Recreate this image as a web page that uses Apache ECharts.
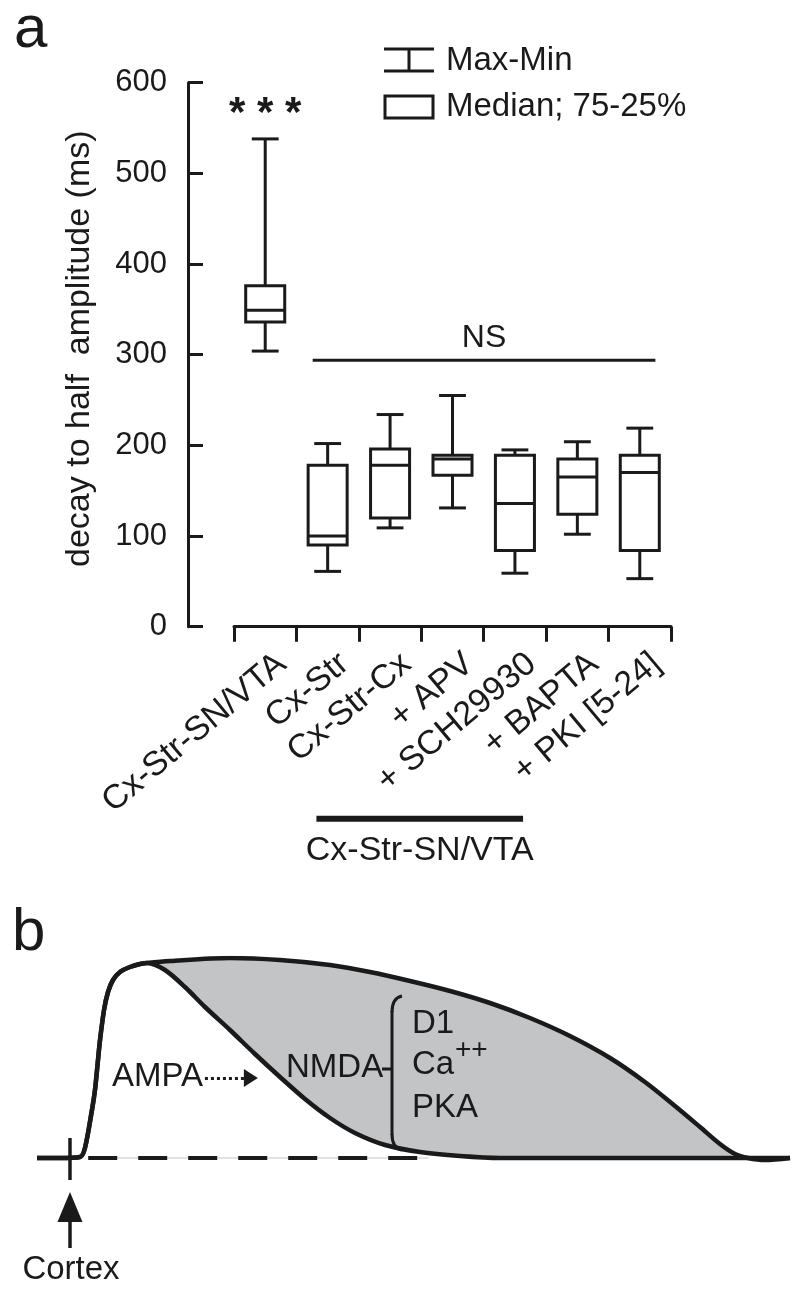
<!DOCTYPE html>
<html><head><meta charset="utf-8">
<script src="https://cdn.jsdelivr.net/npm/echarts@6/dist/echarts.min.js"></script>
<style>html,body{margin:0;padding:0;background:#fff}#c{width:800px;height:1295px}</style>
</head><body><div id="c"></div><script>
// ---------- Panel a data ----------
const categories = ['Cx-Str-SN/VTA', 'Cx-Str', 'Cx-Str-Cx', '+ APV', '+ SCH29930', '+ BAPTA', '+ PKI [5-24]'];
const minVals    = [304,  61, 109, 131,  59, 102,  53];
const q1Vals     = [336,  90, 120, 167,  84, 124,  84];
const medianVals = [349, 100, 178, 185, 136, 165, 170];
const q3Vals     = [376, 178, 196, 189, 189, 185, 189];
const maxVals    = [538, 202, 234, 255, 195, 204, 219];
const significance = ['* * *', '', '', '', '', '', ''];
const nsFrom = 1, nsTo = 6, nsLevel = 294, nsLabel = 'NS';
const groupFrom = 1, groupTo = 4, groupLabel = 'Cx-Str-SN/VTA';
const yTickMin = 0, yTickMax = 600, yTickStep = 100;
const yAxisName = 'decay to half  amplitude (ms)';
const legendLabels = ['Max-Min', 'Median; 75-25%'];

// ---------- Panel b schematic traces (time a.u., normalized amplitude) ----------
const risePhase = [[0,0],[3.05,0],[5.71,0.005],[6.37,0.05],[7.30,0.24],[7.70,0.34],[8.10,0.49],[8.37,0.59],[8.90,0.74],[9.43,0.83],[10.09,0.89],[11.02,0.93],[12.35,0.955],[13.68,0.97],[14.61,0.975]];
const nmdaTail = [[17.66,0.985],[25.63,1.0],[32.27,0.99],[38.91,0.965],[44.22,0.93],[49.54,0.885],[54.85,0.835],[60.16,0.775],[65.47,0.70],[70.78,0.61],[76.10,0.50],[80.74,0.38],[84.73,0.26],[88.05,0.155],[90.70,0.07],[92.70,0.02],[94.42,0],[96.68,-0.01],[100,0]];
const ampaTail = [[16.99,0.94],[19.65,0.855],[22.31,0.755],[25.63,0.64],[28.95,0.52],[32.27,0.405],[35.59,0.295],[38.91,0.20],[42.23,0.125],[46.22,0.065],[50.86,0.03],[56.18,0.01],[61.49,0],[100,0]];
const dashedBaseline = [[6.8,0],[52,0]];
const stimTime = 4.38;
const stimMark = [[4.38,0.1],[4.38,-0.11]];
const arrowFrom = -0.45, arrowTo = -0.245;
const ampaArrow = [[22.3,0.4],[28.4,0.4]];

const FONT = "'Liberation Sans', Arial, Helvetica, sans-serif";
const INK = '#1a1a1a';
const GREY = '#c3c4c6';

const upperTrace = risePhase.concat(nmdaTail);
const innerTrace = risePhase.concat(ampaTail);

const chart = echarts.init(document.getElementById('c'), null, {renderer: 'canvas'});

const boxData = categories.map((c, i) => [i, minVals[i], q1Vals[i], medianVals[i], q3Vals[i], maxVals[i]]);

function boxRender(params, api) {
  const i = api.value(0);
  const cw = api.size([1, 0])[0];
  const x = api.coord([i, 0])[0];
  const y = k => api.coord([i, api.value(k)])[1];
  const yMin = y(1), yQ1 = y(2), yMed = y(3), yQ3 = y(4), yMax = y(5);
  const bw = cw * 0.625, capW = cw * 0.43;
  const st = {stroke: INK, lineWidth: 3, fill: null};
  const ch = [
    {type: 'line', shape: {x1: x, y1: yMax, x2: x, y2: yQ3}, style: st},
    {type: 'line', shape: {x1: x, y1: yQ1, x2: x, y2: yMin}, style: st},
    {type: 'line', shape: {x1: x - capW / 2, y1: yMax, x2: x + capW / 2, y2: yMax}, style: st},
    {type: 'line', shape: {x1: x - capW / 2, y1: yMin, x2: x + capW / 2, y2: yMin}, style: st},
    {type: 'rect', shape: {x: x - bw / 2, y: yQ3, width: bw, height: yQ1 - yQ3}, style: {stroke: INK, lineWidth: 3, fill: '#fff'}},
    {type: 'line', shape: {x1: x - bw / 2, y1: yMed, x2: x + bw / 2, y2: yMed}, style: st}
  ];
  if (significance[i]) {
    ch.push({type: 'text', style: {text: significance[i], x: x, y: yMax - 24, align: 'center', verticalAlign: 'middle',
      fontSize: 42, fontWeight: 'bold', fontFamily: FONT, fill: INK}});
  }
  return {type: 'group', children: ch};
}

function annotRender(params, api) {
  const cw = api.size([1, 0])[0];
  const x1 = api.coord([nsFrom, nsLevel])[0] - 0.24 * cw;
  const x2 = api.coord([nsTo, nsLevel])[0] + 0.25 * cw;
  const yy = api.coord([nsFrom, nsLevel])[1];
  const y0 = api.coord([0, 0])[1];
  const g1 = api.coord([groupFrom, 0])[0] - 0.18 * cw;
  const g2 = api.coord([groupTo, 0])[0] + 0.13 * cw;
  return {type: 'group', children: [
    {type: 'line', shape: {x1: x1, y1: yy, x2: x2, y2: yy}, style: {stroke: INK, lineWidth: 3}},
    {type: 'text', style: {text: nsLabel, x: (x1 + x2) / 2, y: yy - 22, align: 'center', verticalAlign: 'middle', fontSize: 32, fontFamily: FONT, fill: INK}},
    {type: 'rect', shape: {x: g1, y: y0 + 189, width: g2 - g1, height: 6}, style: {fill: INK}},
    {type: 'text', style: {text: groupLabel, x: (g1 + g2) / 2, y: y0 + 224, align: 'center', verticalAlign: 'middle', fontSize: 34, fontFamily: FONT, fill: INK}}
  ]};
}

const txt = (text, x, y, size, align) => ({type: 'text', x: x, y: y, z: 100,
  style: {text: text, fontSize: size, fontFamily: FONT, fill: INK, verticalAlign: 'middle', align: align || 'left'}});
const seg = (x1, y1, x2, y2, w) => ({type: 'line', z: 100, shape: {x1: x1, y1: y1, x2: x2, y2: y2}, style: {stroke: INK, lineWidth: w || 3}});

const option = {
  backgroundColor: '#fff',
  animation: false,
  grid: [
    {left: 234, right: 129, top: 82.7, bottom: 668.3, containLabel: false, outerBoundsMode: 'none'},
    {left: 37, right: 10, top: 958, bottom: 37, containLabel: false, outerBoundsMode: 'none'}
  ],
  xAxis: [
    {gridIndex: 0, type: 'category', data: categories, offset: 13, boundaryGap: true,
     axisLine: {show: true, lineStyle: {color: INK, width: 3}},
     axisTick: {show: true, length: 15, alignWithLabel: false, interval: 0, lineStyle: {color: INK, width: 3}},
     axisLabel: {rotate: 40, interval: 0, margin: 0, verticalAlign: 'top', padding: [9, 0, 0, 0],
                 fontSize: 34, fontFamily: FONT, color: INK},
     splitLine: {show: false}},
    {gridIndex: 1, type: 'value', min: 0, max: 100, show: false}
  ],
  yAxis: [
    {gridIndex: 0, type: 'value', min: yTickMin, max: yTickMax, interval: yTickStep, offset: 46,
     axisLine: {show: true, lineStyle: {color: INK, width: 3}},
     axisTick: {show: true, inside: true, length: 15, lineStyle: {color: INK, width: 3}},
     axisLabel: {margin: 21, fontSize: 31, fontFamily: FONT, color: INK},
     splitLine: {show: false},
     name: yAxisName, nameLocation: 'middle', nameGap: 91,
     nameTextStyle: {fontSize: 34, fontFamily: FONT, color: INK, padding: [0, 0, 0, 12]}},
    {gridIndex: 1, type: 'value', min: -0.5, max: 1, show: false}
  ],
  graphic: [
    txt('a', 14, 30, 60),
    txt('b', 12, 933, 60),
    seg(384, 49, 434, 49), seg(384, 71, 434, 71), seg(409, 49, 409, 71),
    {type: 'rect', z: 100, shape: {x: 385, y: 96, width: 48, height: 22}, style: {stroke: INK, lineWidth: 3, fill: '#fff'}},
    txt(legendLabels[0], 446, 61, 33),
    txt(legendLabels[1], 446, 107, 33),
    txt('AMPA', 112, 1077, 33),
    txt('NMDA', 286, 1068, 33),
    seg(382, 1069, 392, 1069),
    {type: 'bezierCurve', z: 100, shape: {x1: 402, y1: 996, x2: 392, y2: 1012, cpx1: 392, cpy1: 998}, style: {stroke: INK, lineWidth: 3, fill: null}},
    seg(392, 1011, 392, 1135),
    {type: 'bezierCurve', z: 100, shape: {x1: 392, y1: 1134, x2: 402, y2: 1150, cpx1: 392, cpy1: 1148}, style: {stroke: INK, lineWidth: 3, fill: null}},
    txt('D1', 412, 1024, 33),
    txt('Ca', 412, 1065, 33),
    txt('++', 455, 1050, 28),
    txt('PKA', 412, 1108, 33),
    txt('Cortex', 71, 1270, 33, 'center')
  ],
  series: [
    {type: 'custom', name: 'box', xAxisIndex: 0, yAxisIndex: 0, data: boxData, encode: {x: 0, y: [1, 2, 3, 4, 5]}, renderItem: boxRender, z: 5, clip: false},
    {type: 'custom', name: 'annot', xAxisIndex: 0, yAxisIndex: 0, data: [[nsFrom, nsLevel]], encode: {x: 0, y: 1}, renderItem: annotRender, z: 5, clip: false},
    {type: 'line', name: 'upperArea', xAxisIndex: 1, yAxisIndex: 1, data: upperTrace, showSymbol: false, smooth: 0.3,
     lineStyle: {width: 0, opacity: 0}, areaStyle: {color: GREY, opacity: 1}, z: 1, silent: true},
    {type: 'line', name: 'innerArea', xAxisIndex: 1, yAxisIndex: 1, data: innerTrace, showSymbol: false, smooth: 0.3,
     lineStyle: {width: 0, opacity: 0}, areaStyle: {color: '#fff', opacity: 1}, z: 2, silent: true},
    {type: 'line', name: 'baseThin', xAxisIndex: 1, yAxisIndex: 1, data: dashedBaseline, showSymbol: false,
     lineStyle: {color: '#d9d9d9', width: 1.5}, z: 3, silent: true},
    {type: 'line', name: 'baseDash', xAxisIndex: 1, yAxisIndex: 1, data: dashedBaseline, showSymbol: false,
     lineStyle: {color: INK, width: 4, type: [29, 21]}, z: 3, silent: true},
    {type: 'line', name: 'upperLine', xAxisIndex: 1, yAxisIndex: 1, data: upperTrace, showSymbol: false, smooth: 0.3,
     lineStyle: {color: INK, width: 4.5}, z: 4, silent: true},
    {type: 'line', name: 'innerLine', xAxisIndex: 1, yAxisIndex: 1, data: innerTrace, showSymbol: false, smooth: 0.3,
     lineStyle: {color: INK, width: 4.5}, z: 4, silent: true},
    {type: 'line', name: 'stim', xAxisIndex: 1, yAxisIndex: 1, data: stimMark, showSymbol: false,
     lineStyle: {color: INK, width: 3.5}, z: 4, silent: true,
     markLine: {silent: true, animation: false, symbol: ['none', 'triangle'], symbolSize: [25, 30], label: {show: false},
       lineStyle: {color: INK, width: 3.5, type: 'solid'},
       data: [[{coord: [stimTime, arrowFrom]}, {coord: [stimTime, arrowTo]}]]}},
    {type: 'line', name: 'ampaArrow', xAxisIndex: 1, yAxisIndex: 1, data: [], showSymbol: false, z: 4, silent: true,
     markLine: {silent: true, animation: false, symbol: ['none', 'triangle'], symbolSize: [18, 14], label: {show: false},
       lineStyle: {color: INK, width: 3, type: [3, 3]},
       data: [[{coord: ampaArrow[0]}, {coord: ampaArrow[1]}]]}}
  ]
};
chart.setOption(option);
</script></body></html>
